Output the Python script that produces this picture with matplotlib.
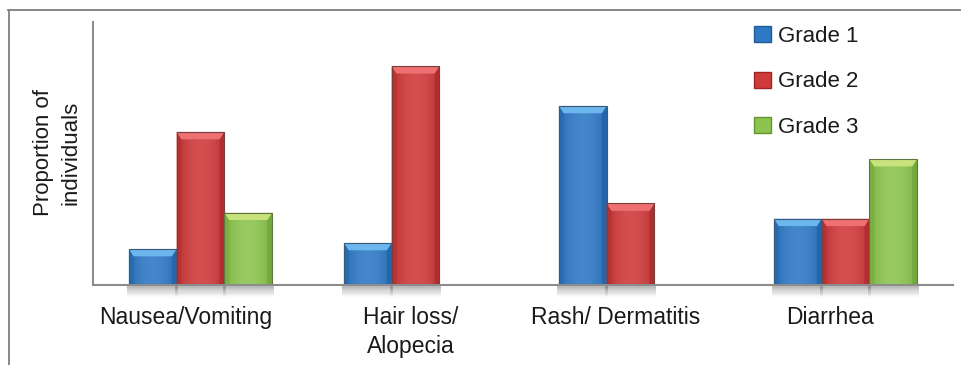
import numpy as np
import matplotlib.pyplot as plt
from matplotlib.patches import Polygon, Rectangle, Patch
from matplotlib.lines import Line2D
import matplotlib.transforms as mtransforms
from matplotlib.colors import to_rgb

categories = ["Nausea/Vomiting", "Hair loss/\nAlopecia", "Rash/ Dermatitis", "Diarrhea"]
series_names = ["Grade 1", "Grade 2", "Grade 3"]
grade1 = [13.7, 16.0, 68.1, 25.2]
grade2 = [58.2, 83.2, 31.0, 25.2]
grade3 = [27.5, 0.0, 0.0, 47.9]

plt.rcParams['font.family'] = ['Liberation Sans', 'DejaVu Sans']

# face, bevel highlight, dark edge
palette = [
    ("#2f79c4", "#6cb6ee", "#1f5a99"),
    ("#cf3b3c", "#ee7070", "#9c2626"),
    ("#8cc44f", "#c8e37c", "#63952f"),
]

fig = plt.figure(figsize=(9.62, 3.65), dpi=100)
W, H = 962, 365
ax = fig.add_axes([93 / W, 1 - 285 / H, 860 / W, 263 / H])
ax.set_xlim(-0.5, 3.5)
ax.set_ylim(0, 100)

x = np.arange(len(categories))
width = 0.222
offsets = [-width, 0.0, width]


def mix(c, other, t):
    a, b = np.array(to_rgb(c)), np.array(to_rgb(other))
    return tuple(a * (1 - t) + b * t)


def bevel_bar(patch, colors):
    face, light, dark = colors
    x0, w, h = patch.get_x(), patch.get_width(), patch.get_height()
    if h <= 0:
        patch.set_visible(False)
        return
    # soft horizontal shading across the face
    n = 64
    t = np.linspace(-1, 1, n)
    prof = 1 - t ** 2
    row = np.array([mix(dark, face, 0.55 + 0.45 * p) for p in prof])
    row = np.array([mix(c, "white", 0.10 * p) for c, p in zip(row, prof)])
    img = ax.imshow(row[None, :, :], extent=(x0, x0 + w, 0, h), aspect="auto",
                    zorder=2.1, interpolation="bilinear")
    img.set_clip_path(patch)
    dx, dy = 0.022, 2.8
    dy = min(dy, h / 2)
    top = Polygon([(x0, h), (x0 + w, h), (x0 + w - dx, h - dy), (x0 + dx, h - dy)],
                  closed=True, facecolor=light, edgecolor="none", zorder=2.3)
    left = Polygon([(x0, 0), (x0, h), (x0 + dx, h - dy), (x0 + dx, 0)],
                   closed=True, facecolor=mix(face, dark, 0.45), edgecolor="none",
                   zorder=2.2)
    right = Polygon([(x0 + w, 0), (x0 + w, h), (x0 + w - dx, h - dy), (x0 + w - dx, 0)],
                    closed=True, facecolor=mix(face, dark, 0.6), edgecolor="none",
                    zorder=2.2)
    for p in (top, left, right):
        ax.add_patch(p)
    ax.add_patch(Rectangle((x0, 0), w, h, facecolor="none",
                           edgecolor=mix(dark, "#555555", 0.5), lw=0.8, zorder=2.4))
    # drop shadow beneath the bar
    steps = 10
    for k in range(steps):
        ax.add_patch(Rectangle((x0 - 0.008, -4.8 * (k + 1) / steps), w + 0.016,
                               4.8 / steps, facecolor="#555555",
                               alpha=0.45 * (1 - k / steps) ** 1.3, edgecolor="none",
                               clip_on=False, zorder=1.5))


for values, off, colors in zip([grade1, grade2, grade3], offsets, palette):
    bars = ax.bar(x + off, values, width, color=colors[0], zorder=2)
    for b in bars:
        bevel_bar(b, colors)

for side in ("top", "right"):
    ax.spines[side].set_visible(False)
for side in ("left", "bottom"):
    ax.spines[side].set_color("#8c8c8c")
    ax.spines[side].set_linewidth(1.5)
    ax.spines[side].set_zorder(3)
ax.set_xticks([])
ax.set_yticks([])

# category labels under each group
label_shift = [-15, -5, -15, -15]
for xi, name, sh in zip(x, categories, label_shift):
    tr = mtransforms.blended_transform_factory(ax.transData, ax.transAxes)
    tr = tr + mtransforms.ScaledTranslation(sh / 100, 0, fig.dpi_scale_trans)
    ax.text(xi, -21 / 263, name, transform=tr, ha="center", va="top",
            fontsize=16.5, color="#1a1a1a", linespacing=1.35, multialignment="center")

fig.text(57 / W, 1 - 153 / H, "Proportion of\nindividuals", rotation=90,
         ha="center", va="center", fontsize=16, color="#1a1a1a",
         linespacing=1.4, multialignment="center")

handles = [Patch(facecolor=c[0], edgecolor=c[2]) for c in palette]
leg = fig.legend(handles, series_names, loc="upper left",
                 bbox_to_anchor=(754 / W, 1 - 26 / H), frameon=False,
                 fontsize=16, handlelength=0.75, handleheight=0.75,
                 handletextpad=0.35, labelspacing=1.1, borderpad=0,
                 borderaxespad=0)
for t in leg.get_texts():
    t.set_color("#1a1a1a")

# outer frame
fig.add_artist(Line2D([8 / W, 1], [1 - 10 / H] * 2, transform=fig.transFigure,
                      color="#7f7f7f", lw=1.3))
fig.add_artist(Line2D([9 / W] * 2, [0, 1 - 10 / H], transform=fig.transFigure,
                      color="#7f7f7f", lw=1.3))

fig.savefig("out.png", dpi=100)
